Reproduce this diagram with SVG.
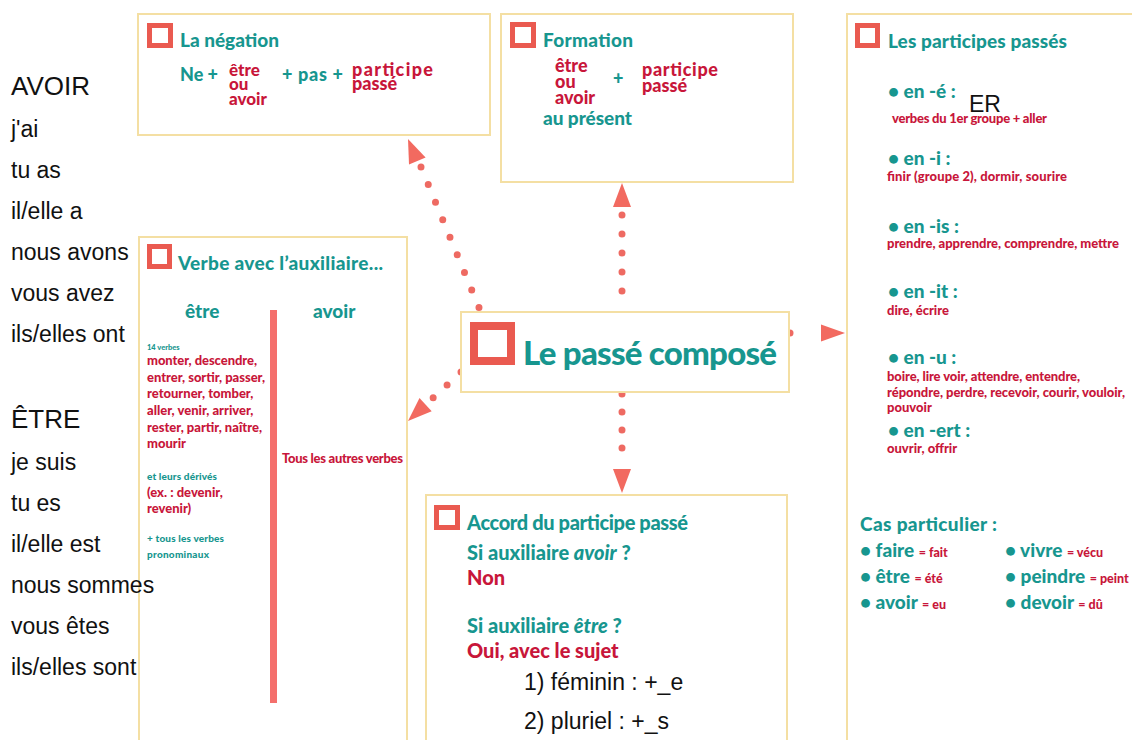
<svg xmlns="http://www.w3.org/2000/svg" width="1132" height="740" viewBox="0 0 1132 740">
<style>
.box{fill:#fff;stroke:#f4dfa3;stroke-width:2}
.icon{fill:none;stroke:#ea5a50;stroke-width:5}
.t{font-family:Lato,"Open Sans","Noto Sans",sans-serif;font-weight:900;fill:#17968f}
.r{fill:#c8163a}
.s{font-size:13px}
.h{font-size:19px}
.b{font-size:19px}
.k{font-family:"Liberation Sans",Arial,sans-serif;fill:#111;font-size:23px}
.kh{font-size:26px}
.conn{stroke:#ee6a62;stroke-width:7;stroke-linecap:round;stroke-dasharray:0 19;fill:none}
.ah{fill:#f26a60}
</style>
<rect width="1132" height="740" fill="#fff"/>

<g id="connectors">
  <line class="conn" x1="421" y1="167" x2="480" y2="310"/>
  <polygon class="ah" points="408,139 425.6,157.6 409,164.6"/>
  <line class="conn" x1="622" y1="215" x2="622" y2="310"/>
  <polygon class="ah" points="622,183 613,207 631,207"/>
  <line class="conn" x1="622" y1="394" x2="622" y2="466" style="stroke-dasharray:0 18"/>
  <polygon class="ah" points="622,493 613,469 631,469"/>
  <line class="conn" x1="790" y1="333" x2="811" y2="333" style="stroke-dasharray:0 21"/>
  <polygon class="ah" points="845,333 821,324.5 821,341.5"/>
  <line class="conn" x1="461" y1="372" x2="433" y2="398"/>
  <polygon class="ah" points="408,421 431.7,411.3 419.5,398.1"/>
</g>

<g id="negation">
  <rect class="box" x="138" y="14" width="352" height="121"/>
  <rect class="icon" x="149.5" y="25.5" width="21" height="20"/>
  <text class="t h" x="180" y="47" textLength="99">La négation</text>
  <text class="t" x="180" y="81" font-size="18" textLength="38">Ne +</text>
  <text class="t r" x="229" y="76" font-size="17">être</text>
  <text class="t r" x="229" y="90" font-size="17">ou</text>
  <text class="t r" x="229" y="105" font-size="17">avoir</text>
  <text class="t" x="282" y="81" font-size="18" textLength="61">+ pas +</text>
  <text class="t r" x="352" y="76" font-size="18" textLength="81">participe</text>
  <text class="t r" x="352" y="90" font-size="18">passé</text>
</g>

<g id="formation">
  <rect class="box" x="501" y="14" width="292" height="168"/>
  <rect class="icon" x="512.5" y="24.5" width="21" height="21"/>
  <text class="t h" x="543" y="47" textLength="90">Formation</text>
  <text class="t r" x="555" y="72" font-size="18">être</text>
  <text class="t r" x="555" y="88" font-size="18">ou</text>
  <text class="t r" x="555" y="104" font-size="18">avoir</text>
  <text class="t" x="613" y="85" font-size="18">+</text>
  <text class="t r" x="642" y="76" font-size="18" textLength="76">participe</text>
  <text class="t r" x="642" y="92" font-size="18">passé</text>
  <text class="t" x="543" y="125" font-size="19" textLength="89">au présent</text>
</g>

<g id="participes">
  <rect class="box" x="847" y="14" width="300" height="740"/>
  <rect class="icon" x="857.5" y="25.5" width="20" height="20"/>
  <text class="t h" x="888" y="48" textLength="179">Les participes passés</text>
  <text class="t b" x="888" y="98">• en -é :</text>
  <text class="t r s" x="892" y="123" textLength="155">verbes du 1er groupe + aller</text>
  <text class="t b" x="888" y="165">• en -i :</text>
  <text class="t r s" x="887" y="181" textLength="180">finir (groupe 2), dormir, sourire</text>
  <text class="t b" x="888" y="233">• en -is :</text>
  <text class="t r s" x="887" y="248" textLength="232">prendre, apprendre, comprendre, mettre</text>
  <text class="t b" x="888" y="298">• en -it :</text>
  <text class="t r s" x="887" y="315">dire, écrire</text>
  <text class="t b" x="888" y="364">• en -u :</text>
  <text class="t r s" x="887" y="381" textLength="193">boire, lire voir, attendre, entendre,</text>
  <text class="t r s" x="887" y="397" textLength="238">répondre, perdre, recevoir, courir, vouloir,</text>
  <text class="t r s" x="887" y="412">pouvoir</text>
  <text class="t b" x="888" y="437">• en -ert :</text>
  <text class="t r s" x="887" y="453">ouvrir, offrir</text>
  <text class="t h" x="860" y="531" textLength="137">Cas particulier :</text>
  <text class="t h" x="860" y="557">• faire <tspan class="r" font-size="12.5">= fait</tspan></text>
  <text class="t h" x="860" y="583">• être <tspan class="r" font-size="12.5">= été</tspan></text>
  <text class="t h" x="860" y="609">• avoir <tspan class="r" font-size="12.5">= eu</tspan></text>
  <text class="t h" x="1005" y="557">• vivre <tspan class="r" font-size="12.5">= vécu</tspan></text>
  <text class="t h" x="1005" y="583">• peindre <tspan class="r" font-size="12.5">= peint</tspan></text>
  <text class="t h" x="1005" y="609">• devoir <tspan class="r" font-size="12.5">= dû</tspan></text>
</g>

<g id="verbe-auxiliaire">
  <rect class="box" x="139" y="237" width="268" height="510"/>
  <rect class="icon" x="149.5" y="246.5" width="20" height="20"/>
  <text class="t h" x="178" y="270" textLength="205">Verbe avec l’auxiliaire...</text>
  <text class="t" x="185" y="318" font-size="19">être</text>
  <text class="t" x="313" y="318" font-size="19">avoir</text>
  <rect x="270" y="310" width="7" height="393" fill="#f46f6c"/>
  <text class="t" x="147" y="350" font-size="7.5">14 verbes</text>
  <text class="t r s" x="147" y="365" textLength="110">monter, descendre,</text>
  <text class="t r s" x="147" y="382" textLength="118">entrer, sortir, passer,</text>
  <text class="t r s" x="147" y="398">retourner, tomber,</text>
  <text class="t r s" x="147" y="415">aller, venir, arriver,</text>
  <text class="t r s" x="147" y="432">rester, partir, naître,</text>
  <text class="t r s" x="147" y="448">mourir</text>
  <text class="t r s" x="282" y="463" textLength="121">Tous les autres verbes</text>
  <text class="t" x="147" y="480" font-size="10" textLength="70">et leurs dérivés</text>
  <text class="t r s" x="147" y="497">(ex. : devenir,</text>
  <text class="t r s" x="147" y="513">revenir)</text>
  <text class="t" x="147" y="542" font-size="10" textLength="77">+ tous les verbes</text>
  <text class="t" x="147" y="558" font-size="10" textLength="62">pronominaux</text>
</g>

<g id="passe-compose">
  <rect class="box" x="461" y="312" width="328" height="80"/>
  <rect class="icon" x="474" y="326" width="37" height="35" style="stroke-width:8"/>
  <text class="t" x="523" y="365" font-size="33" textLength="254">Le passé composé</text>
</g>

<g id="accord">
  <rect class="box" x="426" y="495" width="361" height="260"/>
  <rect class="icon" x="436.5" y="507.5" width="21" height="20"/>
  <text class="t" x="467" y="530" font-size="20" textLength="221">Accord du participe passé</text>
  <text class="t" x="467" y="560" font-size="20">Si auxiliaire <tspan font-style="italic">avoir</tspan> ?</text>
  <text class="t r" x="467" y="585" font-size="20">Non</text>
  <text class="t" x="467" y="633" font-size="20">Si auxiliaire <tspan font-style="italic">être</tspan> ?</text>
  <text class="t r" x="467" y="658" font-size="20">Oui, avec le sujet</text>
</g>

<g id="conjugaisons">
  <text class="k kh" x="11" y="95">AVOIR</text>
  <text class="k" x="11" y="137">j'ai</text>
  <text class="k" x="11" y="178">tu as</text>
  <text class="k" x="11" y="219">il/elle a</text>
  <text class="k" x="11" y="260">nous avons</text>
  <text class="k" x="11" y="301">vous avez</text>
  <text class="k" x="11" y="342">ils/elles ont</text>
  <text class="k kh" x="11" y="428">ÊTRE</text>
  <text class="k" x="11" y="470">je suis</text>
  <text class="k" x="11" y="511">tu es</text>
  <text class="k" x="11" y="552">il/elle est</text>
  <text class="k" x="11" y="593">nous sommes</text>
  <text class="k" x="11" y="634">vous êtes</text>
  <text class="k" x="11" y="675">ils/elles sont</text>
  <text class="k" x="969" y="112">ER</text>
  <text class="k" x="524" y="690">1) féminin : +_e</text>
  <text class="k" x="524" y="729">2) pluriel : +_s</text>
</g>
</svg>
